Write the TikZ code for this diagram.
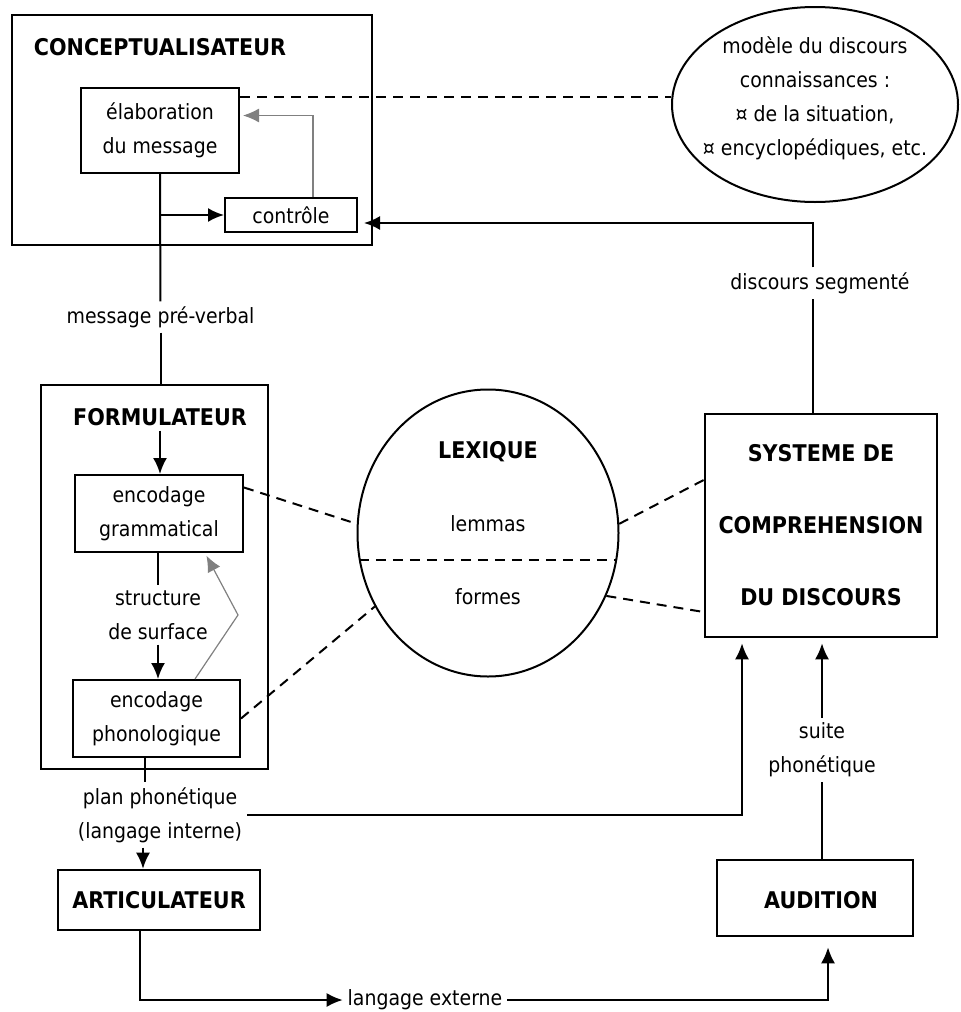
\documentclass[tikz,border=0pt]{standalone}
\usepackage{fontspec}
\setmainfont{DejaVu Sans}[FakeStretch=0.9]
\usetikzlibrary{arrows.meta,shapes.geometric}

\tikzset{
  bigbox/.style={draw, line width=1.3pt, inner sep=0pt},
  smallbox/.style={draw, line width=1pt, inner sep=0pt, align=center},
  txt/.style={font=\fontsize{10.5}{17}\selectfont, align=center, inner sep=2pt},
  ttl/.style={font=\fontsize{11.5}{17}\selectfont\bfseries, align=center, inner sep=2pt},
  dashlink/.style={line width=1pt, dash pattern=on 5pt off 3.5pt},
  fb/.style={gray, line width=0.6pt, -{Latex[length=8pt,width=7pt]}, shorten >=1.5pt},
  >={Latex[length=8pt,width=7pt]}
}

\begin{document}
\begin{tikzpicture}[x=0.5pt, y=-0.5pt, line width=1pt]
  \useasboundingbox (0,0) rectangle (960,1012);

  % conceptualisateur
  \node[bigbox, minimum width=180pt, minimum height=115pt] (concept) at (192,130) {};
  \node[ttl] (ctitle) at (160,47) {CONCEPTUALISATEUR};
  \node[txt, smallbox, minimum width=79pt, minimum height=42.5pt] (elab) at (160,130.5) {élaboration\\du message};
  \node[txt, smallbox, minimum width=66pt, minimum height=17pt] (ctrl) at (291,215) {contrôle};
  \node[draw, ellipse, line width=1pt, minimum width=143pt, minimum height=97.5pt] (modele) at (815,104.5) {};
  \node[txt] (modtxt) at (815,98.5) {modèle du discours\\connaissances :\\¤ de la situation,\\¤ encyclopédiques, etc.};

  % formulateur
  \node[bigbox, minimum width=113.5pt, minimum height=192pt] (formul) at (154.5,577) {};
  \node[ttl] (ftitle) at (160,417) {FORMULATEUR};
  \node[txt, smallbox, minimum width=84pt, minimum height=38.5pt] (gram) at (159,513.5) {encodage\\grammatical};
  \node[txt, smallbox, minimum width=83.5pt, minimum height=38.5pt] (phono) at (156.5,718.5) {encodage\\phonologique};
  \node[ttl, bigbox, minimum width=101pt, minimum height=30pt] (artic) at (159,900) {ARTICULATEUR};

  % lexique
  \node[draw, ellipse, line width=1pt, minimum width=130.5pt, minimum height=143.5pt] (lex) at (488,533) {};
  \node[ttl] (lextitle) at (488,452) {LEXIQUE};
  \node[txt] (lemmas) at (488,524) {lemmas};
  \node[txt] (formes) at (488,597) {formes};

  % comprehension
  \node[bigbox, minimum width=116pt, minimum height=111.5pt] (systeme) at (821,525.5) {};
  \node[ttl, font=\fontsize{11.5}{36}\selectfont\bfseries] (systxt) at (821,525.5) {SYSTEME DE\\COMPREHENSION\\DU DISCOURS};
  \node[bigbox, minimum width=98pt, minimum height=38pt] (audition) at (815,898) {};
  \node[ttl] (audtxt) at (821,900) {AUDITION};

  % etiquettes
  \node[txt] (mpv) at (160.5,317) {message pré-verbal};
  \node[txt] (ds) at (820,283) {discours segmenté};
  \node[txt] (ss) at (158,615) {structure\\de surface};
  \node[txt] (ppi) at (160,815) {plan phonétique\\(langage interne)};
  \node[txt] (sp) at (822,750) {suite\\phonétique};
  \node[txt] (le) at (425,1000) {langage externe};
  \coordinate (bend) at (238,615);

  % liaisons
  \draw (elab.south) -- (mpv);
  \draw (mpv) -- (mpv |- formul.north);
  \draw[->] (elab.south |- ctrl.west) -- (ctrl.west);
  \draw[fb] ([xshift=11pt]ctrl.north) |- ([yshift=7.5pt]elab.east);
  \draw[dashlink] ([yshift=16.75pt]elab.east) -- ([yshift=16.75pt]elab.east -| modele.west);
  \draw ([xshift=-4pt]systeme.north) -- ([xshift=-4pt]systeme.north |- ds.south);
  \draw[->, shorten >=3pt] ([xshift=-4pt]systeme.north |- ds.north) |- ([yshift=-4pt]ctrl.east);

  \draw[->] (ftitle) -- (ftitle |- gram.north);
  \draw (gram.south -| ss) -- (ss);
  \draw[->] (ss) -- (ss |- phono.north);
  \draw[fb] ([xshift=19.25pt]phono.north) -- (bend) -- ([xshift=23pt]gram.south);
  \draw ([xshift=-5.75pt]phono.south) -- ([xshift=-5.75pt]phono.south |- ppi.north);
  \draw[->] ([xshift=-8.5pt]ppi.south) -- ([xshift=-8.5pt]ppi.south |- artic.north);
  \draw[->, shorten >=2.5pt] (ppi.east) -| ([xshift=-39.5pt]systeme.south);
  \draw[->] ([xshift=-9.5pt]artic.south) |- (le.west);
  \draw[->, shorten >=5pt] (le.east) -| ([xshift=6.5pt]audition.south);
  \draw (audition.north -| sp) -- (sp);
  \draw[->, shorten >=2.5pt] (sp) -- (sp |- systeme.south);

  \draw[dashlink] ([yshift=13pt]gram.east) -- (lex.176);
  \draw[dashlink] (phono.east) -- (lex.213);
  \draw[dashlink] (lex.4) -- ([yshift=22.75pt]systeme.west);
  \draw[dashlink] (lex.332) -- ([yshift=-43.25pt]systeme.west);
  \draw[dashlink] (lex.192) -- (lex.348);
\end{tikzpicture}
\end{document}
